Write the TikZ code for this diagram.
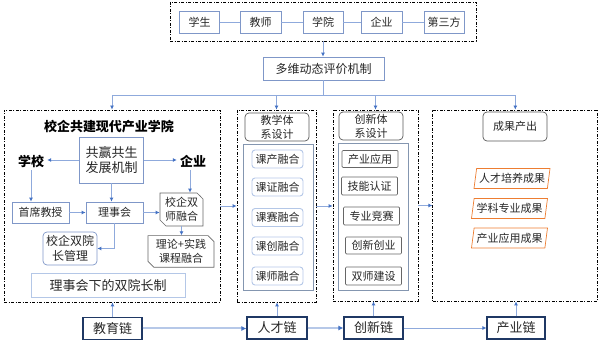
\documentclass[tikz,border=0pt]{standalone}
\usepackage{fontspec}
\setmainfont{Noto Sans CJK SC}
\usepackage{tikz}
\usetikzlibrary{arrows.meta, positioning, shapes.geometric, shapes.misc, calc}

\begin{document}
\begin{tikzpicture}[x=1pt, y=-1pt, font=\fontsize{11}{14}\selectfont,
  every node/.style={text=black!85, inner sep=1pt, align=center},
  link/.style={draw=linkblue, line width=0.8pt},
  arr/.style={link, -{Latex[length=4pt, width=4pt, color=arrblue]}},
  chainlink/.style={draw=linkblue!65, line width=2pt, -{Latex[length=5pt, width=5pt, color=arrblue]}},
  frame/.style={draw=black, line width=0.8pt, dash pattern=on 3pt off 1.5pt on 1pt off 1.5pt},
  box/.style={draw=boxblue, line width=0.7pt, minimum height=22pt},
  head/.style={draw=black!65, rounded corners=4pt, line width=0.7pt, minimum width=64pt, minimum height=28pt},
  item/.style={draw=lightbox, rounded corners=3pt, line width=0.9pt, minimum width=51pt, minimum height=18pt},
  itemb/.style={draw=black!60, rounded corners=1pt, line width=0.7pt, minimum width=56pt, minimum height=17pt},
  snip/.style={chamfered rectangle, chamfered rectangle corners={north east, south west},
    chamfered rectangle xsep=3pt, chamfered rectangle ysep=3pt, draw=black!60, line width=0.7pt},
  result/.style={trapezium, trapezium left angle=78, trapezium right angle=102, trapezium stretches body,
    draw=orangeline, line width=0.7pt, minimum width=76pt, minimum height=20pt},
  chain/.style={draw=navy, line width=1.1pt, minimum width=59pt, minimum height=22pt, font=\fontsize{13}{15}\selectfont},
  label/.style={font=\fontsize{13}{15}\selectfont\bfseries, text=black, inner sep=3pt}]
  \definecolor{linkblue}{RGB}{143,170,220}
  \definecolor{arrblue}{RGB}{68,114,196}
  \definecolor{boxblue}{RGB}{127,151,200}
  \definecolor{lightbox}{RGB}{180,199,231}
  \definecolor{panelblue}{RGB}{132,150,176}
  \definecolor{orangeline}{RGB}{237,125,49}
  \definecolor{navy}{RGB}{31,56,100}
  \useasboundingbox (0,0) rectangle (600,344);

  % --- 五方主体 ---
  \node[frame, minimum width=306pt, minimum height=39pt] (top) at (323,21.5) {};
  \node[box, minimum width=40pt] (s1) at (199.5,22) {学生};
  \node[box, minimum width=41pt] (s2) at (260.5,22) {教师};
  \node[box, minimum width=40pt] (s3) at (323,22) {学院};
  \node[box, minimum width=41pt] (s4) at (381.5,22) {企业};
  \node[box, minimum width=40pt] (s5) at (444,22) {第三方};
  \draw[link] (s1) -- (s2);
  \draw[link] (s2) -- (s3);
  \draw[link] (s3) -- (s4);
  \draw[link] (s4) -- (s5);

  % --- 评价机制 ---
  \node[box, minimum width=121pt, minimum height=23pt, font=\fontsize{12}{14}\selectfont] (eval) at (323.5,68.5) {多维动态评价机制};
  \draw[arr] (top.south) -- (top.south |- eval.north);

  % --- 四个模块 ---
  \node[frame, minimum width=216pt, minimum height=192pt] (box1) at (112,206) {};
  \node[frame, minimum width=79pt, minimum height=192pt] (box2) at (276.5,206) {};
  \node[frame, minimum width=85pt, minimum height=191pt] (box3) at (375.5,205.5) {};
  \node[frame, minimum width=165pt, minimum height=191pt] (box4) at (515.3,205.5) {};
  \coordinate (fan) at ($(eval.south)+(0,15)$);
  \draw[link] (eval.south) -- (fan);
  \foreach \b in {box1,box2,box3,box4}
    \draw[arr] (fan) -| (\b.north);
  \draw[arr] (box1.east) -- (box2.west);
  \draw[arr] (box2.east) -- (box2.east -| box3.west);
  \draw[arr] (box3.east) -- (box4.west);

  % --- 校企共建现代产业学院 ---
  \node[label] (title1) at (109,127) {校企共建现代产业学院};
  \node[box, minimum width=64pt, minimum height=46pt, font=\fontsize{13}{15}\selectfont] (win) at (111.5,160) {共赢共生\\发展机制};
  \node[label] (school) at (31,161) {学校};
  \node[label] (ent) at (193,161) {企业};
  \node[box, minimum width=57pt, minimum height=21pt] (prof) at (40.5,212.5) {首席教授};
  \node[box, minimum width=57pt, minimum height=21pt] (council) at (114.5,212.5) {理事会};
  \node[snip, minimum width=43pt, minimum height=33pt] (dual) at (181.5,209.5) {校企双\\师融合};
  \node[snip, minimum width=66pt, minimum height=31pt, font=\fontsize{11}{13.5}\selectfont] (theory) at (181,251.5) {理论+实践\\课程融合};
  \node[draw=boxblue, rounded corners=4pt, line width=0.7pt, minimum width=54pt, minimum height=33pt,
    font=\fontsize{12}{14.5}\selectfont] (dean) at (70,248.5) {校企双院\\长管理};
  \node[draw=lightbox, line width=1pt, minimum width=154pt, minimum height=24pt,
    font=\fontsize{13}{15}\selectfont] (sys) at (108,286) {理事会下的双院长制};
  \draw[arr] (win.west) -- (win.west -| school.east);
  \draw[arr] (win.east) -- (win.east -| ent.west);
  \draw[arr] (school.south) -- (school.south |- prof.north);
  \draw[arr] (win.south) -- (win.south |- council.north);
  \draw[arr] (prof) -- (council);
  \draw[arr] (council.east) -- (council.east -| dual.west);
  \draw[arr] ([xshift=-3pt]ent.south) -- ([xshift=-3pt]ent.south |- dual.north);
  \draw[arr] (dual.south) -- (dual.south |- theory.north);
  \draw[arr] (council.south) |- (dean.east);

  % --- 教学体系设计 ---
  \node[head] (teach) at (277,127) {教学体\\系设计};
  \node[draw=panelblue, line width=0.8pt, minimum width=70pt, minimum height=146pt] (panel2) at (278,217) {};
  \node[item] (t1) at (277.5,159) {课产融合};
  \node[item] (t2) at (277.5,187) {课证融合};
  \node[item] (t3) at (277.5,217.5) {课赛融合};
  \node[item] (t4) at (277.5,246) {课创融合};
  \node[item] (t5) at (277.5,276) {课师融合};

  % --- 创新体系设计 ---
  \node[head] (innov) at (371,126) {创新体\\系设计};
  \node[draw=panelblue, line width=0.8pt, minimum width=70pt, minimum height=147pt] (panel3) at (373,216.5) {};
  \node[itemb] (i1) at (370,159) {产业应用};
  \node[itemb, minimum height=18pt] (i2) at (369.5,186) {技能认证};
  \node[itemb, minimum height=18pt] (i3) at (371.5,216) {专业竞赛};
  \node[itemb] (i4) at (373.5,245.5) {创新创业};
  \node[itemb, minimum height=18pt] (i5) at (373.5,276) {双师建设};

  % --- 成果产出 ---
  \node[head, minimum height=29pt] (out) at (515,126.5) {成果产出};
  \node[result] (r1) at (512,178.5) {人才培养成果};
  \node[result] (r2) at (509.5,208.5) {学科专业成果};
  \node[result] (r3) at (509.5,238) {产业应用成果};

  % --- 四链 ---
  \node[chain] (edu) at (112.5,328.5) {教育链};
  \node[chain, minimum width=60pt] (talent) at (277,328) {人才链};
  \node[chain] (newc) at (373.5,328) {创新链};
  \node[chain, minimum width=58pt] (indc) at (516,328) {产业链};
  \draw[chainlink] (edu.east) -- (edu.east -| talent.west);
  \draw[chainlink] (talent) -- (newc);
  \draw[arr] (newc) -- (indc);
  \draw[arr] (edu.north) -- (edu.north |- box1.south);
  \draw[arr] (talent.north) -- (talent.north |- box2.south);
  \draw[arr] (newc.north) -- (newc.north |- box3.south);
  \draw[arr] (indc.north) -- (indc.north |- box4.south);
\end{tikzpicture}
\end{document}
